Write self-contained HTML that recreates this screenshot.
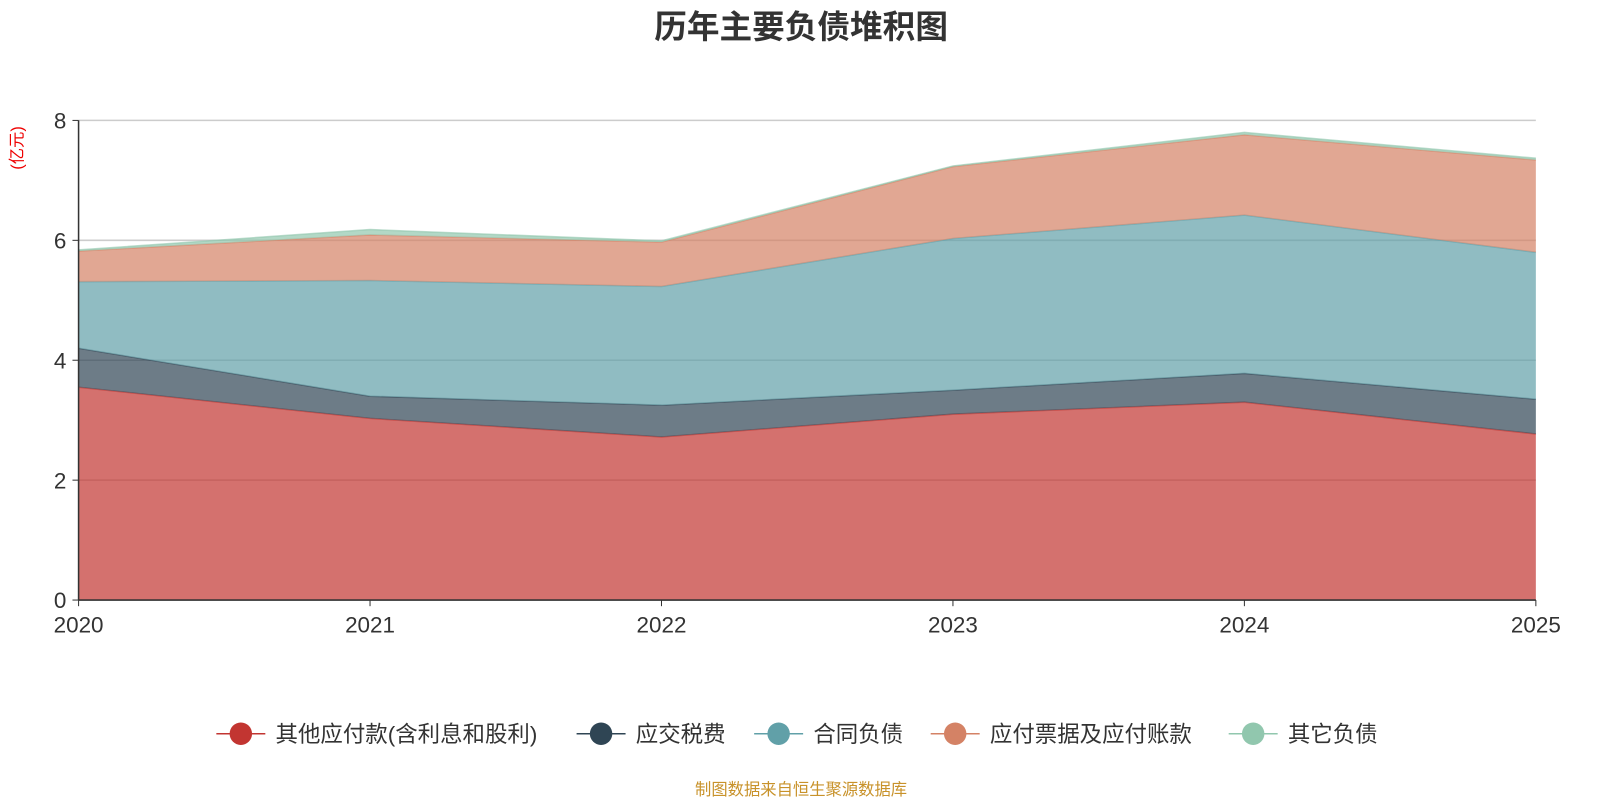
<!DOCTYPE html>
<html><head><meta charset="utf-8">
<style>
html,body{margin:0;padding:0;background:#fff;}
body{width:1600px;height:800px;overflow:hidden;font-family:"Liberation Sans","Noto Sans CJK SC",sans-serif;}
</style></head>
<body>
<svg id="chart" width="1600" height="800" xmlns="http://www.w3.org/2000/svg" font-family="Liberation Sans, Noto Sans CJK SC, sans-serif">
<g transform="scale(1.0205)">
<text x="785" y="37" text-anchor="middle" font-size="32" font-weight="bold" fill="#333">历年主要负债堆积图</text>
<text transform="translate(22,145) rotate(-90)" text-anchor="middle" font-size="16" fill="#e00">(亿元)</text>
<g id="grid"></g>
<g id="areas"></g>
<g id="axes"></g>
<g id="legend"></g>
<text x="785" y="779" text-anchor="middle" font-size="16" fill="#c8922a">制图数据来自恒生聚源数据库</text>
</g>
</svg>
<script>
const categories = ["2020","2021","2022","2023","2024","2025"];
const seriesNames = ["其他应付款(含利息和股利)","应交税费","合同负债","应付票据及应付账款","其它负债"];
const s1 = [3.55,3.03,2.72,3.10,3.30,2.77];
const s2 = [0.65,0.37,0.53,0.40,0.48,0.58];
const s3 = [1.11,1.93,1.98,2.53,2.64,2.45];
const s4 = [0.51,0.76,0.74,1.20,1.34,1.54];
const s5 = [0.02,0.09,0.02,0.01,0.04,0.03];
const yTicks = [0,2,4,6,8];

const series=[s1,s2,s3,s4,s5];
const colors=["#c23531","#2f4554","#61a0a8","#d48265","#91c7ae"];
const NS="http://www.w3.org/2000/svg";
const x0=77,x1=1505,yb=588,yt=118,ymax=8;
const X=i=>x0+(x1-x0)*i/(categories.length-1);
const Y=v=>yb-(yb-yt)*v/ymax;
function mk(tag,attrs,parent){const e=document.createElementNS(NS,tag);for(const k in attrs)e.setAttribute(k,attrs[k]);parent.appendChild(e);return e;}
const grid=document.getElementById('grid'),areas=document.getElementById('areas'),axes=document.getElementById('axes'),legend=document.getElementById('legend');
yTicks.forEach(t=>{
  if(t>0){const l=mk('line',{x1:x0,x2:x1,y1:Y(t),y2:Y(t),stroke:'#ccc','stroke-width':1.5},grid);
  
  }
  const tx=mk('text',{x:x0-12,y:Y(t)+8,'text-anchor':'end','font-size':22,fill:'#333'},axes);tx.textContent=t;
  
  
  mk('line',{x1:x0-6,x2:x0,y1:Y(t),y2:Y(t),stroke:'#333'},axes);
});
let base=categories.map(()=>0);
series.forEach((s,si)=>{
  const top=base.map((b,i)=>b+s[i]);
  let d='M'+top.map((v,i)=>X(i)+','+Y(v)).join(' L');
  for(let i=categories.length-1;i>=0;i--)d+=' L'+X(i)+','+Y(base[i]);
  d+='Z';
  const p=mk('path',{d:d,fill:colors[si],'fill-opacity':0.7,stroke:'none'},areas);
  
  
  const ln=mk('polyline',{points:top.map((v,i)=>X(i)+','+Y(v)).join(' '),fill:'none',stroke:colors[si],'stroke-opacity':0.6,'stroke-width':1.5},areas);
  
  
  base=top;
});
mk('line',{x1:x0,x2:x0,y1:yt,y2:yb,stroke:'#333','stroke-width':1.5},axes);
mk('line',{x1:x0,x2:x1,y1:yb,y2:yb,stroke:'#333','stroke-width':1.5},axes);
categories.forEach((c,i)=>{
  mk('line',{x1:X(i),x2:X(i),y1:yb,y2:yb+6,stroke:'#333'},axes);
  const t=mk('text',{x:X(i),y:yb+32,'text-anchor':'middle','font-size':22,fill:'#333'},axes);t.textContent=c;
  
  
});
const legendX=[212,565,739,912,1204];
seriesNames.forEach((n,i)=>{
  const lx=legendX[i];
  const g=mk('g',{},legend);
  
  
  mk('line',{x1:lx,x2:lx+48,y1:719,y2:719,stroke:colors[i],'stroke-width':1.5},g);
  mk('circle',{cx:lx+24,cy:719,r:11,fill:colors[i]},g);
  const t=mk('text',{x:lx+58,y:727,'font-size':22,fill:'#333'},g);t.textContent=n;
});
</script>
</body></html>
